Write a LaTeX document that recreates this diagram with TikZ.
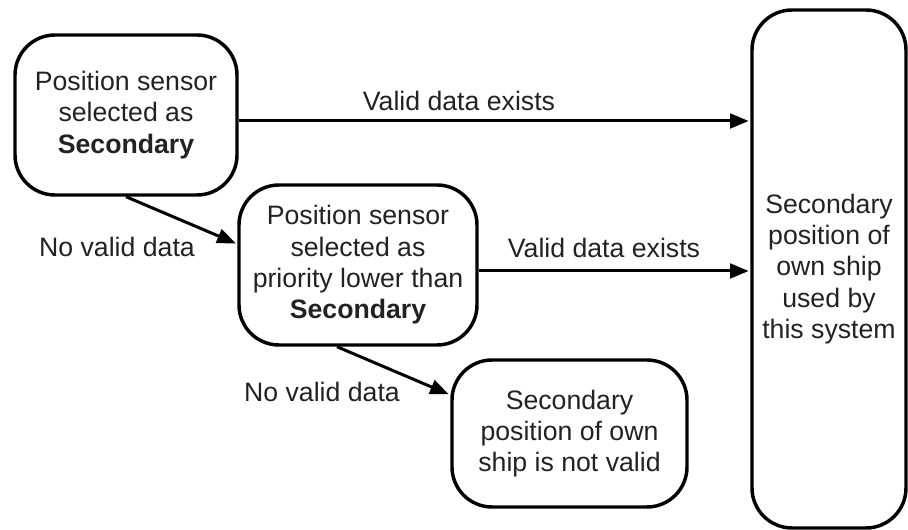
\documentclass[tikz,border=0pt]{standalone}
\usepackage{fontspec}
\setmainfont{Liberation Sans}
\usetikzlibrary{arrows.meta}
\definecolor{txt}{RGB}{34,34,34}
\begin{document}
\begin{tikzpicture}[x=0.75pt,y=-0.75pt,
  box/.style={draw=black,line width=2.6pt,rounded corners=30pt,align=center,text=txt,font=\fontsize{20}{23.5}\selectfont,inner sep=0pt},
  conn/.style={line width=2.25pt,-{Triangle[length=14pt,width=11pt]},shorten >=1.2pt},
  lbl/.style={text=txt,font=\fontsize{20}{23.5}\selectfont,inner sep=0pt}]
\useasboundingbox (0,0) rectangle (908,530);
\node[box,minimum width=166.5pt,minimum height=120pt] (b1) at (126,115) {Position sensor\\selected as\\\textbf{Secondary}};
\node[box,minimum width=178.5pt,minimum height=120pt] (b2) at (358,265) {Position sensor\\selected as\\priority lower than\\\textbf{Secondary}};
\node[box,minimum width=176.25pt,minimum height=110.25pt] (b3) at (569.5,433.5) {Secondary\\position of own\\ship is not valid};
\node[box,minimum width=115.5pt,minimum height=388.5pt] (rb) at (829,269) {Secondary\\position of\\own ship\\used by\\this system};
\draw[conn] ([yshift=-4.5pt]b1.east) -- ([yshift=-4.5pt]b1.east -| rb.west);
\draw[conn] ([yshift=-4.5pt]b2.east) -- ([yshift=-4.5pt]b2.east -| rb.west);
\draw[conn] (b1.south) -- ([yshift=15.75pt]b2.west);
\draw[conn] ([xshift=-15.75pt]b2.south) -- ([yshift=28.9pt]b3.west);
\node[lbl] (l1) at (459,101) {Valid data exists};
\node[lbl] (l2) at (604,248) {Valid data exists};
\node[lbl] (l3) at (117,247) {No valid data};
\node[lbl] (l4) at (322,392) {No valid data};
\end{tikzpicture}
\end{document}
